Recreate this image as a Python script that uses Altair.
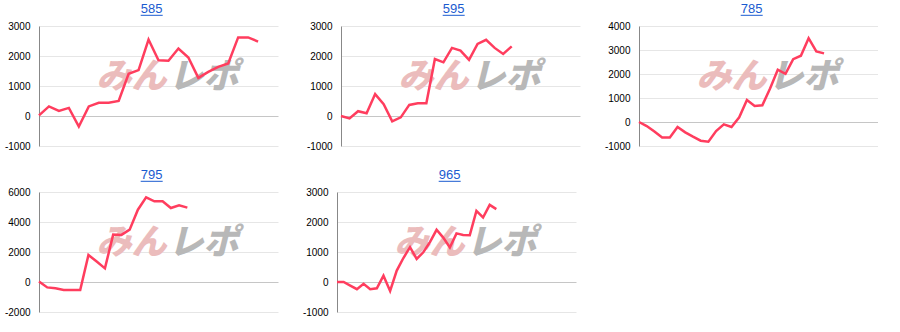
import altair as alt
import pandas as pd

# ---- data ----
titles = ["585", "595", "785", "795", "965"]
s585 = [20, 320, 170, 270, -350, 320, 440, 440, 500, 1410, 1530, 2550, 1860, 1840,
        2250, 1950, 1270, 1470, 1640, 1750, 2620, 2620, 2480]
s595 = [0, -80, 160, 90, 730, 390, -180, -45, 370, 425, 425, 1900, 1790, 2270, 2180,
        1870, 2400, 2540, 2270, 2070, 2320]
s785 = [0, -170, -400, -650, -650, -210, -430, -610, -780, -820, -375, -100, -210, 195,
        920, 670, 700, 1400, 2180, 2010, 2620, 2760, 3490, 2940, 2860]
s795 = [40, -360, -420, -530, -530, -530, 1800, 1360, 910, 3160, 3140, 3490, 4820,
        5640, 5380, 5380, 4930, 5110, 4960]
s965 = [0, 0, -120, -240, -60, -240, -210, 210, -300, 380, 800, 1160, 770, 990, 1330,
        1740, 1480, 1150, 1620, 1570, 1560, 2370, 2150, 2570, 2430]
series = [s585, s595, s785, s795, s965]
x_max = [24, 28, 31, 29, 36]
y_ticks = [
    [-1000, 0, 1000, 2000, 3000],
    [-1000, 0, 1000, 2000, 3000],
    [-1000, 0, 1000, 2000, 3000, 4000],
    [-2000, 0, 2000, 4000, 6000],
    [-1000, 0, 1000, 2000, 3000],
]
wm_left = ["みん"]
wm_right = ["レポ"]

W, H = 239, 120
LINE = "#ff3d5e"
TITLE_C = "#1a5bd0"
TDX = -6.8


def panel(i, extent=35):
    df = pd.DataFrame({"x": list(range(len(series[i]))), "v": series[i]})
    ydom = [y_ticks[i][0], y_ticks[i][-1]]
    yscale = alt.Scale(domain=ydom, nice=False, zero=False)
    xscale = alt.Scale(domain=[0, x_max[i]], nice=False, zero=False)

    wm1 = alt.Chart(pd.DataFrame({"t": wm_left})).mark_text(
        font="Noto Sans CJK JP", fontSize=35, fontWeight=900, fontStyle="italic",
        color="#ebbcbc", align="right", baseline="middle"
    ).encode(text="t:N", x=alt.value(W / 2 + 8), y=alt.value(51))
    wm2 = alt.Chart(pd.DataFrame({"t": wm_right})).mark_text(
        font="Noto Sans CJK JP", fontSize=35, fontWeight=900, fontStyle="italic",
        color="#b8b8b8", align="left", baseline="middle"
    ).encode(text="t:N", x=alt.value(W / 2 + 10), y=alt.value(51))

    line = alt.Chart(df).mark_line(color=LINE, strokeWidth=2.5).encode(
        x=alt.X("x:Q", scale=xscale, axis=None),
        y=alt.Y(
            "v:Q", scale=yscale,
            axis=alt.Axis(
                values=y_ticks[i], title=None, ticks=False, labelPadding=9,
                minExtent=extent, maxExtent=extent, labelOverlap=False,
                gridColor={"condition": {"test": "datum.value === 0", "value": "#c6c6c6"},
                           "value": "#e6e6e6"},
                labelExpr="datum.value < 0 ? '-' + abs(datum.value) : '' + datum.value",
            ),
        ),
    )

    title = alt.Chart(pd.DataFrame({"t": [titles[i]]})).mark_text(
        font="Liberation Sans", fontSize=13, color=TITLE_C, align="center",
        baseline="alphabetic"
    ).encode(text="t:N", x=alt.value(W / 2 + TDX), y=alt.value(-13.5))

    underline = alt.Chart(pd.DataFrame({"u": [0]})).mark_rule(
        color=TITLE_C, strokeWidth=1
    ).encode(
        x=alt.value(W / 2 + TDX - 11), x2=alt.value(W / 2 + TDX + 11),
        y=alt.value(-10.7),
    )

    return alt.layer(wm1, wm2, line, title, underline).properties(
        width=W, height=H, view=alt.ViewBackground(stroke=None)
    )


row1 = alt.hconcat(alt.hconcat(panel(0), panel(1), spacing=28), panel(2), spacing=24)
row2 = alt.hconcat(panel(3, extent=37), panel(4), spacing=24)
chart = alt.vconcat(row1, row2, spacing=17).properties(
    padding={"left": 2, "top": 2, "right": 0, "bottom": 0}
).configure_view(stroke=None).configure_axis(
    domainColor="#dddddd", labelColor="#444444",
    labelFont="Liberation Sans", labelFontSize=10, labelOverlap=False,
).configure(background="white")

chart.save("out.html", embed_options={"renderer": "svg", "actions": False})
